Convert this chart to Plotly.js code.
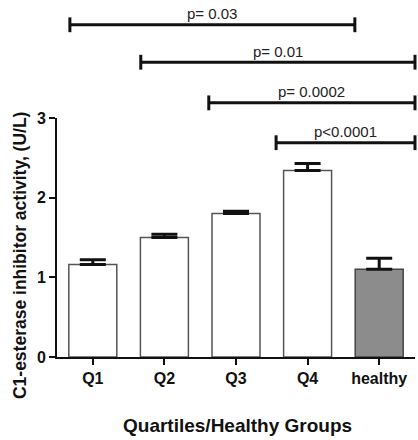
<!DOCTYPE html>
<html>
<head>
<meta charset="utf-8">
<script src="https://cdn.plot.ly/plotly-3.0.1.min.js"></script>
<style>html,body{margin:0;padding:0;background:#fff;}#chart{width:418px;height:440px;}</style>
</head>
<body>
<div id="chart"></div>
<script>
var categories = ["Q1", "Q2", "Q3", "Q4", "healthy"];
var meanValues = [1.16, 1.50, 1.80, 2.34, 1.10];
var semValues = [0.06, 0.04, 0.03, 0.09, 0.14];
var barColors = ["#ffffff", "#ffffff", "#ffffff", "#ffffff", "#8c8c8c"];
var barLines = ["#555555", "#555555", "#555555", "#555555", "#444444"];
var yTicks = [0, 1, 2, 3];

// significance brackets: start/end in category units, height in y units
var bracketLabels = ["p= 0.03", "p= 0.01", "p= 0.0002", "p<0.0001"];
var bracketStart = [-0.32, 0.67, 1.62, 2.56];
var bracketEnd = [3.66, 4.5, 4.5, 4.5];
var bracketLevel = [4.17, 3.70, 3.19, 2.69];

var xRange = [-0.5, 4.5];
var yRange = [0, 3];
function px(v) { return (v - xRange[0]) / (xRange[1] - xRange[0]); }
function py(v) { return (v - yRange[0]) / (yRange[1] - yRange[0]); }

var FONT = "Liberation Sans, Arial, sans-serif";
var shapes = [];
var annotations = [];
var tip = 0.031;
for (var i = 0; i < bracketLabels.length; i++) {
  var x0 = px(bracketStart[i]), x1 = px(bracketEnd[i]), y = py(bracketLevel[i]);
  var ln = {color: "#111", width: 3};
  shapes.push({type: "line", xref: "paper", yref: "paper", x0: x0, x1: x1, y0: y, y1: y, line: ln});
  shapes.push({type: "line", xref: "paper", yref: "paper", x0: x0, x1: x0, y0: y - tip, y1: y + tip, line: ln});
  shapes.push({type: "line", xref: "paper", yref: "paper", x0: x1, x1: x1, y0: y - tip, y1: y + tip, line: ln});
  annotations.push({xref: "paper", yref: "paper", x: (x0 + x1) / 2, y: y, yanchor: "middle", xanchor: "center", yshift: 11,
    text: bracketLabels[i], showarrow: false, font: {family: FONT, size: 15, color: "#222"}});
}
annotations.push({xref: "paper", yref: "paper", x: -0.103, y: 0.427, xanchor: "center", yanchor: "middle", textangle: -90,
  text: "C1-esterase inhibitor activity, (U/L)", showarrow: false,
  font: {family: FONT, size: 17.5, color: "#111", weight: "bold"}});
annotations.push({xref: "paper", yref: "paper", x: 0.505, y: -0.285, xanchor: "center", yanchor: "middle",
  text: "Quartiles/Healthy Groups", showarrow: false,
  font: {family: FONT, size: 19, color: "#111", weight: "bold"}});

var trace = {
  type: "bar",
  x: categories,
  y: meanValues,
  width: 0.67,
  marker: {color: barColors, line: {color: barLines, width: 1.5}},
  error_y: {type: "data", symmetric: false, array: semValues, arrayminus: semValues.map(function(){return 0;}),
    color: "#111", thickness: 3, width: 13},
  hoverinfo: "none"
};

var layout = {
  width: 418, height: 440,
  margin: {l: 57, r: 3, t: 118, b: 83},
  paper_bgcolor: "#fff", plot_bgcolor: "#fff",
  showlegend: false,
  xaxis: {
    range: xRange, showgrid: false, zeroline: false, showline: true, linecolor: "#111", linewidth: 2,
    ticks: "outside", ticklen: 6, tickwidth: 2, tickcolor: "#111",
    tickfont: {family: FONT, size: 16, color: "#111", weight: "bold"}
  },
  yaxis: {
    range: yRange, tickvals: yTicks, showgrid: false, zeroline: false, showline: true, linecolor: "#111", linewidth: 2,
    ticks: "outside", ticklen: 6, tickwidth: 2, tickcolor: "#111",
    tickfont: {family: FONT, size: 16, color: "#111", weight: "bold"}
  },
  shapes: shapes,
  annotations: annotations
};

Plotly.newPlot("chart", [trace], layout, {displayModeBar: false, staticPlot: true});
</script>
</body>
</html>
